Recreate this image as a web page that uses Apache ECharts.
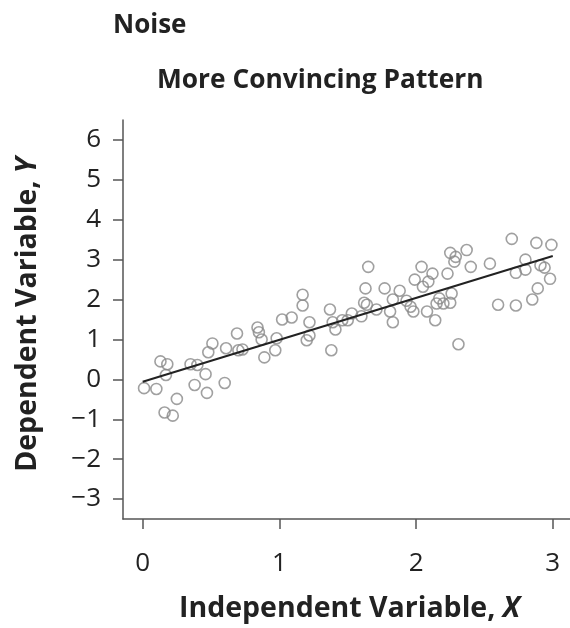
<!DOCTYPE html>
<html>
<head>
<meta charset="utf-8">
<script src="https://cdn.jsdelivr.net/npm/echarts@6/dist/echarts.min.js"></script>
<style>
html,body{margin:0;padding:0;background:#fff;}
#chart{width:570px;height:628px;}
</style>
</head>
<body>
<div id="chart"></div>
<script>
// ---- data ----
const pointX = [0.01,0.10,0.13,0.18,0.17,0.16,0.22,0.25,0.35,0.40,0.38,0.46,0.47,0.48,0.51,0.60,0.61,0.69,0.70,0.73,
  0.84,0.85,0.87,0.89,0.97,0.98,1.02,1.09,1.17,1.17,1.22,1.22,1.20,1.37,1.38,1.39,1.41,1.46,1.50,1.53,
  1.60,1.63,1.65,1.62,1.64,1.71,1.77,1.81,1.83,1.83,1.88,1.93,1.96,1.98,1.99,2.04,2.05,2.09,2.08,2.12,
  2.14,2.15,2.17,2.20,2.23,2.25,2.26,2.25,2.29,2.28,2.31,2.37,2.40,2.54,2.60,2.70,2.73,2.73,2.80,2.80,
  2.85,2.88,2.89,2.91,2.94,2.98,2.99];
const pointY = [-0.22,-0.24,0.45,0.38,0.11,-0.83,-0.91,-0.49,0.38,0.36,-0.14,0.13,-0.34,0.68,0.90,-0.09,0.78,1.15,0.73,0.75,
  1.30,1.18,1.00,0.55,0.73,1.03,1.50,1.55,2.12,1.85,1.43,1.10,0.98,1.75,0.73,1.43,1.25,1.48,1.48,1.65,
  1.58,2.28,2.82,1.92,1.87,1.75,2.28,1.70,1.43,2.00,2.22,1.97,1.82,1.70,2.50,2.82,2.32,2.45,1.70,2.65,
  1.48,1.90,2.03,1.90,2.65,1.92,2.15,3.17,3.07,2.95,0.88,3.24,2.82,2.90,1.87,3.52,2.67,1.85,3.00,2.75,
  2.00,3.42,2.28,2.86,2.80,2.52,3.37];
const fitX = [0, 3];
const fitY = [-0.06, 3.09];
const xTicks = [0, 1, 2, 3];
const yTicks = [-3, -2, -1, 0, 1, 2, 3, 4, 5, 6];
const titleText = 'Noise';
const subtitleText = 'More Convincing Pattern';

const FONT = 'Open Sans';
const points = pointX.map((x, i) => [x, pointY[i]]);
const fitLine = fitX.map((x, i) => [x, fitY[i]]);

const chart = echarts.init(document.getElementById('chart'), null, {renderer: 'canvas'});
const axisCommon = {
  type: 'value',
  axisLine: {show: true, onZero: false, lineStyle: {color: '#555', width: 1.5}},
  axisTick: {show: true, inside: false, length: 10, lineStyle: {color: '#555', width: 1.5}},
  splitLine: {show: false},
};
const nameRich = {
  b: {fontFamily: FONT, fontSize: 28.5, fontWeight: 'bold', color: '#222'},
  i: {fontFamily: FONT, fontSize: 28.5, fontWeight: 'bold', fontStyle: 'italic', color: '#222'}
};
chart.setOption({
  backgroundColor: '#fff',
  animation: false,
  title: [
    {text: titleText, left: 113, top: 13, padding: 0,
     textStyle: {fontFamily: FONT, fontSize: 26, fontWeight: 'bold', color: '#222'}},
    {text: subtitleText, left: 157, top: 68, padding: 0,
     textStyle: {fontFamily: FONT, fontSize: 26.3, fontWeight: 'bold', color: '#222'}}
  ],
  grid: {left: 123, right: 0, top: 120, bottom: 106, containLabel: false},
  xAxis: Object.assign({}, axisCommon, {
    min: -0.144, max: 3.126,
    axisTick: Object.assign({}, axisCommon.axisTick, {customValues: xTicks}),
    axisLabel: {customValues: xTicks, margin: 32, fontFamily: FONT, fontSize: 26, color: '#222'},
    name: '{b|Independent Variable, }{i|X}',
    nameLocation: 'middle', nameGap: 75,
    nameTextStyle: {rich: nameRich, padding: [0, 0, 0, 6]}
  }),
  yAxis: Object.assign({}, axisCommon, {
    min: -3.5, max: 6.5,
    axisTick: Object.assign({}, axisCommon.axisTick, {customValues: yTicks}),
    axisLabel: {customValues: yTicks, margin: 22, fontFamily: FONT, fontSize: 26, color: '#222',
      formatter: v => (v < 0 ? '\u2212' + Math.abs(v) : String(v))},
    name: '{b|Dependent Variable, }{i|Y}',
    nameLocation: 'middle', nameGap: 81, nameRotate: 90,
    nameTextStyle: {rich: nameRich, padding: [0, 0, 0, 10]}
  }),
  series: [
    {type: 'scatter', data: points, symbol: 'circle', symbolSize: 11,
     itemStyle: {color: 'rgba(255,255,255,0)', borderColor: '#888', borderWidth: 1.6},
     z: 2},
    {type: 'line', data: fitLine, symbol: 'none', showSymbol: false,
     lineStyle: {color: '#222', width: 2}, z: 3}
  ]
});
</script>
</body>
</html>
